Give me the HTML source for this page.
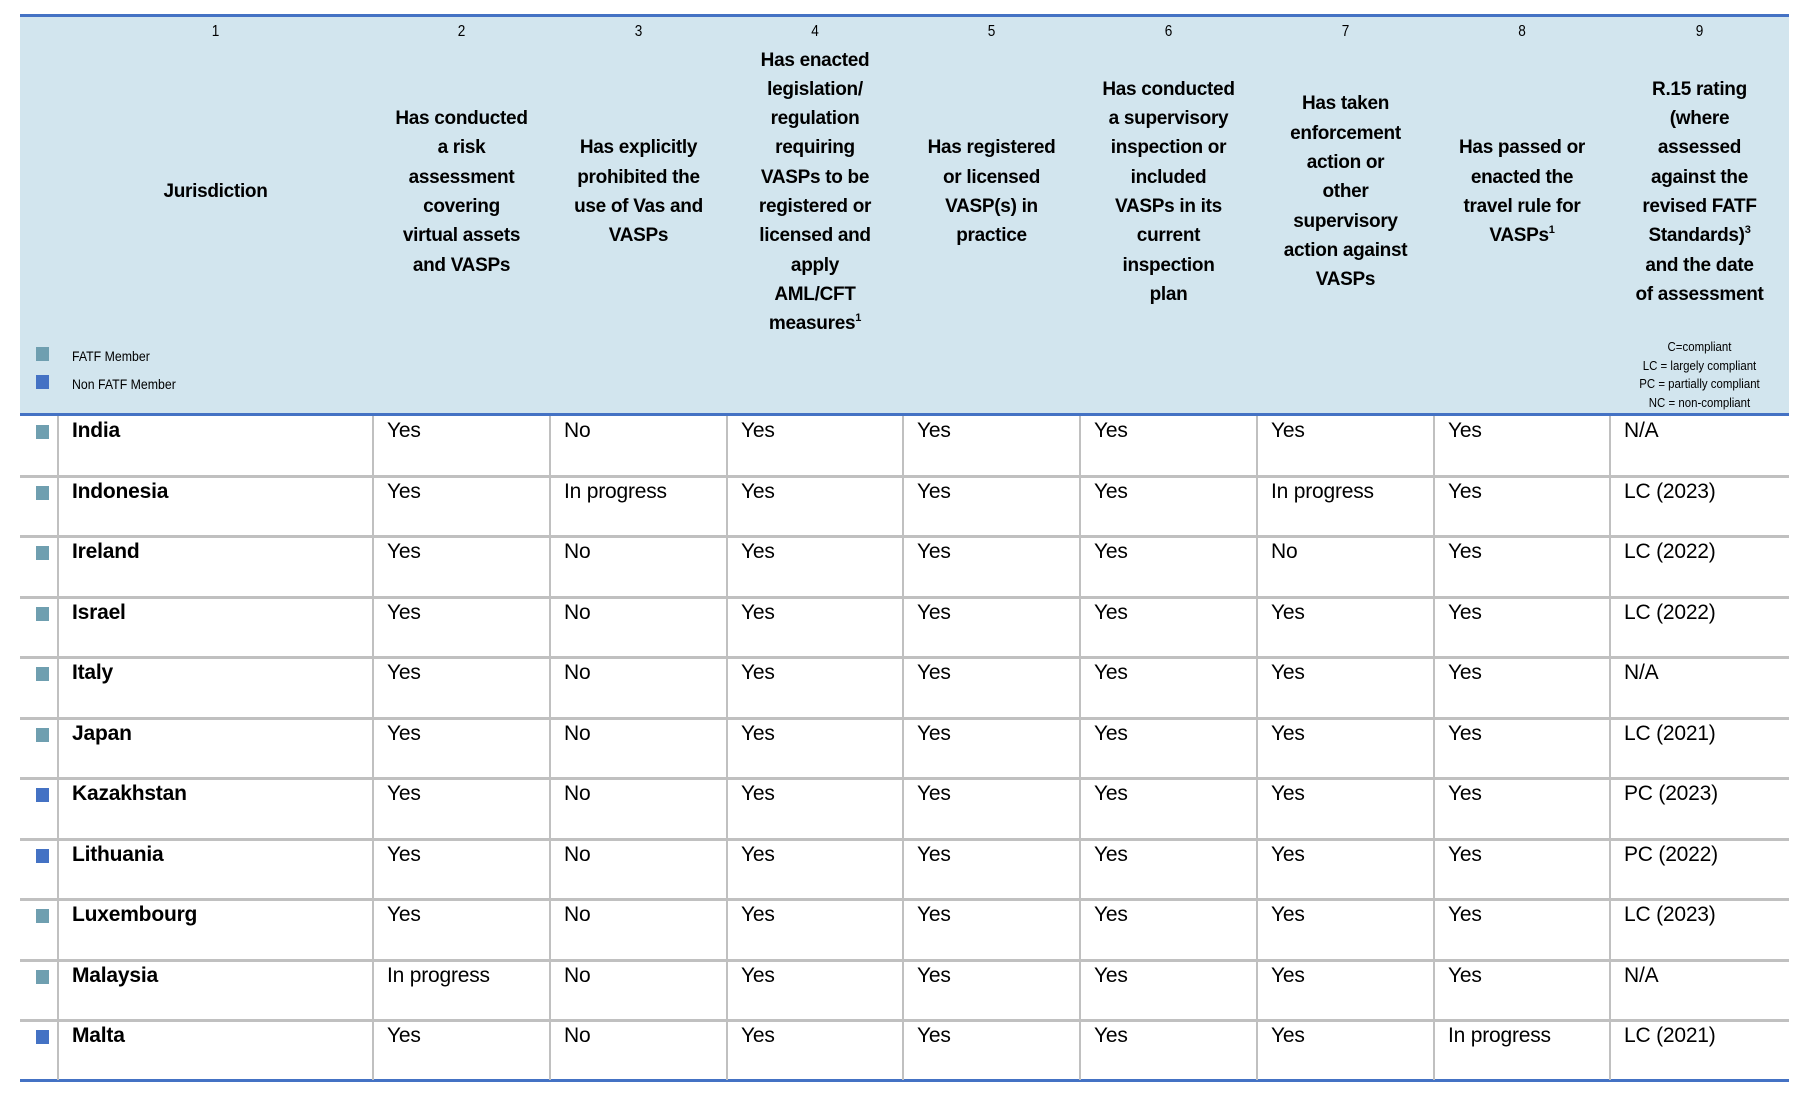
<!DOCTYPE html>
<html><head><meta charset="utf-8"><style>
body{margin:0;width:1811px;height:1110px;background:#fff;position:relative;overflow:hidden;font-family:"Liberation Sans",sans-serif;color:#000}
.a{position:absolute}
.hd{position:absolute;top:16px;height:352px;display:flex;align-items:center;justify-content:center;text-align:center;font-weight:bold;font-size:19px;line-height:29.3px;white-space:nowrap;letter-spacing:-0.3px}
.num{position:absolute;top:23px;font-size:16px;text-align:center;transform:scaleX(0.85)}
.c{position:absolute;font-size:21px;white-space:nowrap;letter-spacing:-0.2px}
.n{font-weight:bold}
.sq{position:absolute;left:36px;width:13px;height:14px}
.f{background:#6f9fb0}.nf{background:#4472c4}
sup{font-size:11px;vertical-align:8px;line-height:0}
</style></head><body>
<div class="a" style="left:20px;top:16px;width:1769px;height:399px;background:#d2e5ee"></div>
<div class="a" style="left:20px;top:14px;width:1769px;height:3px;background:#4472c4"></div>
<div class="a" style="left:20px;top:413px;width:1769px;height:3px;background:#4472c4"></div>
<div class="a" style="left:20px;top:1079px;width:1769px;height:3px;background:#4472c4"></div>

<div class="num" style="left:58px;width:315px">1</div>
<div class="num" style="left:373px;width:177px">2</div>
<div class="num" style="left:550px;width:177px">3</div>
<div class="num" style="left:727px;width:176px">4</div>
<div class="num" style="left:903px;width:177px">5</div>
<div class="num" style="left:1080px;width:177px">6</div>
<div class="num" style="left:1257px;width:177px">7</div>
<div class="num" style="left:1434px;width:176px">8</div>
<div class="num" style="left:1610px;width:179px">9</div>

<div class="hd" style="left:58px;width:315px"><div>Jurisdiction</div></div>
<div class="hd" style="left:373px;width:177px"><div>Has conducted<br>a risk<br>assessment<br>covering<br>virtual assets<br>and VASPs</div></div>
<div class="hd" style="left:550px;width:177px"><div>Has explicitly<br>prohibited the<br>use of Vas and<br>VASPs</div></div>
<div class="hd" style="left:727px;width:176px"><div>Has enacted<br>legislation/<br>regulation<br>requiring<br>VASPs to be<br>registered or<br>licensed and<br>apply<br>AML/CFT<br>measures<sup>1</sup></div></div>
<div class="hd" style="left:903px;width:177px"><div>Has registered<br>or licensed<br>VASP(s) in<br>practice</div></div>
<div class="hd" style="left:1080px;width:177px"><div>Has conducted<br>a supervisory<br>inspection or<br>included<br>VASPs in its<br>current<br>inspection<br>plan</div></div>
<div class="hd" style="left:1257px;width:177px"><div>Has taken<br>enforcement<br>action or<br>other<br>supervisory<br>action against<br>VASPs</div></div>
<div class="hd" style="left:1434px;width:176px"><div>Has passed or<br>enacted the<br>travel rule for<br>VASPs<sup>1</sup></div></div>
<div class="hd" style="left:1610px;width:179px"><div>R.15 rating<br>(where<br>assessed<br>against the<br>revised FATF<br>Standards)<sup>3</sup><br>and the date<br>of assessment</div></div>

<div class="a" style="left:1610px;width:179px;top:338px;text-align:center;font-size:13px;line-height:18.5px;white-space:nowrap;transform:scaleX(0.88)">C=compliant<br>LC = largely compliant<br>PC = partially compliant<br>NC = non-compliant</div>

<div class="sq f" style="top:347px;left:36px"></div>
<div class="a" style="left:72px;top:348px;font-size:14px;transform:scaleX(0.88);transform-origin:left">FATF Member</div>
<div class="sq nf" style="top:375px;left:36px"></div>
<div class="a" style="left:72px;top:376px;font-size:14px;transform:scaleX(0.88);transform-origin:left">Non FATF Member</div>

<div id="body"></div>
<script>
var rows=[["India","f","Yes","No","Yes","Yes","Yes","Yes","Yes","N/A"],
["Indonesia","f","Yes","In progress","Yes","Yes","Yes","In progress","Yes","LC (2023)"],
["Ireland","f","Yes","No","Yes","Yes","Yes","No","Yes","LC (2022)"],
["Israel","f","Yes","No","Yes","Yes","Yes","Yes","Yes","LC (2022)"],
["Italy","f","Yes","No","Yes","Yes","Yes","Yes","Yes","N/A"],
["Japan","f","Yes","No","Yes","Yes","Yes","Yes","Yes","LC (2021)"],
["Kazakhstan","nf","Yes","No","Yes","Yes","Yes","Yes","Yes","PC (2023)"],
["Lithuania","nf","Yes","No","Yes","Yes","Yes","Yes","Yes","PC (2022)"],
["Luxembourg","f","Yes","No","Yes","Yes","Yes","Yes","Yes","LC (2023)"],
["Malaysia","f","In progress","No","Yes","Yes","Yes","Yes","Yes","N/A"],
["Malta","nf","Yes","No","Yes","Yes","Yes","Yes","In progress","LC (2021)"]];
var cols=[58,373,550,727,903,1080,1257,1434,1610];
var h="";
var top0=415,rh=60.5;
for(var i=0;i<rows.length;i++){
 var y=top0+i*rh;
 if(i>0)h+='<div class="a" style="left:20px;top:'+(y-1)+'px;width:1769px;height:3px;background:#c0c0c0"></div>';
 h+='<div class="sq '+rows[i][1]+'" style="top:'+(y+10)+'px"></div>';
 h+='<div class="c n" style="left:72px;top:'+(y+4)+'px">'+rows[i][0]+'</div>';
 for(var j=2;j<10;j++)h+='<div class="c" style="left:'+(cols[j-1]+14)+'px;top:'+(y+4)+'px">'+rows[i][j]+'</div>';
}
for(var k=0;k<cols.length;k++)h+='<div class="a" style="left:'+(cols[k]-1)+'px;top:416px;width:2px;height:664px;background:#c0c0c0"></div>';
document.getElementById("body").innerHTML=h;
</script>
</body></html>
